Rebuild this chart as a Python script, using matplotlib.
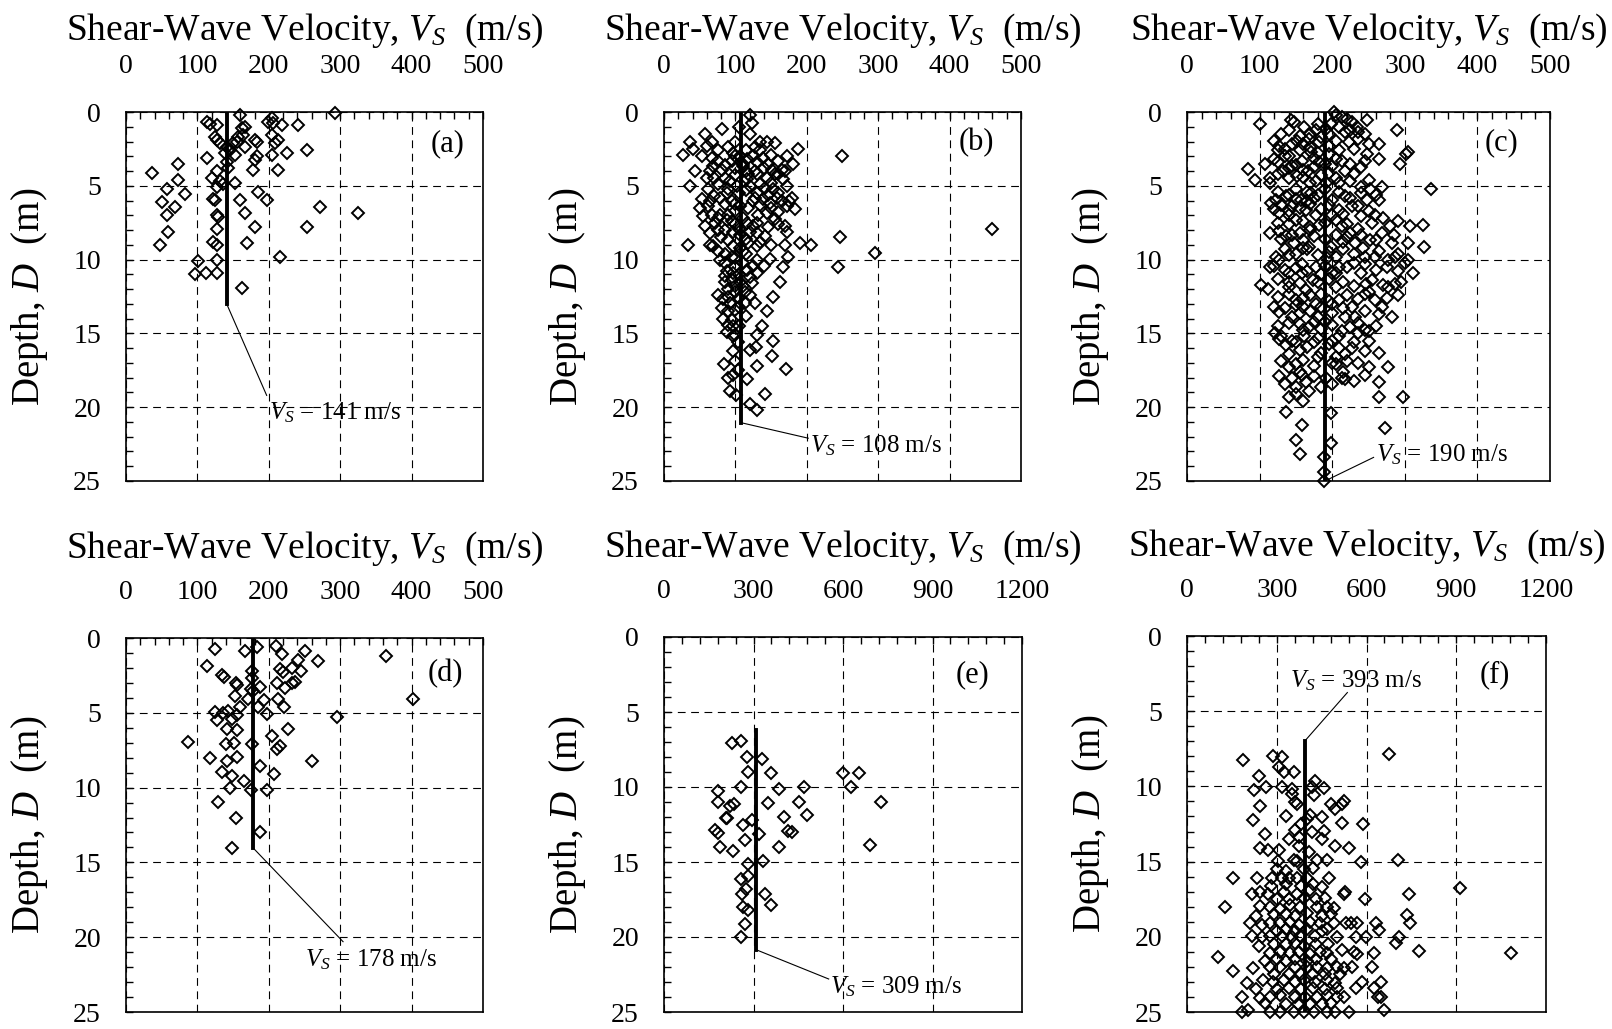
import matplotlib
matplotlib.use("Agg")
import matplotlib.pyplot as plt
from matplotlib.ticker import MultipleLocator

plt.rcParams['font.family'] = ['Liberation Serif', 'DejaVu Serif']
plt.rcParams['mathtext.fontset'] = 'custom'
plt.rcParams['mathtext.rm'] = 'Liberation Serif'
plt.rcParams['mathtext.it'] = 'Liberation Serif:italic'

# (Vs in m/s, depth in m)
pts_a = [(293, 0.1), (160, 0.2), (114, 0.7), (117, 0.8), (127, 0.9), (199, 0.66), (204, 0.43),
         (206, 0.72), (219, 0.9), (241, 0.9), (163, 1.1), (167, 1.0), (124, 1.7), (127, 1.9),
         (157, 1.7), (164, 1.56), (181, 1.9), (183, 2.0), (204, 1.56), (213, 1.9), (209, 2.1),
         (132, 2.1), (141, 2.35), (150, 2.1), (155, 2.0), (146, 2.57), (139, 2.8), (153, 2.9),
         (167, 2.35), (225, 2.8), (253, 2.57), (113, 3.1), (183, 3.0), (181, 3.25), (204, 2.9),
         (141, 3.4), (143, 3.8), (73, 3.5), (178, 3.9), (213, 3.9), (36, 4.15), (127, 4.0),
         (120, 4.5), (73, 4.6), (132, 4.7), (136, 4.9), (153, 4.8), (127, 5.06), (57, 5.2),
         (83, 5.55), (185, 5.4), (197, 5.96), (160, 5.96), (122, 5.9), (125, 5.96), (50, 6.07),
         (69, 6.46), (272, 6.46), (325, 6.86), (127, 6.98), (129, 7.09), (167, 6.86), (57, 6.98),
         (181, 7.8), (253, 7.8), (127, 7.95), (59, 8.1), (122, 8.8), (127, 9.0), (169, 8.9),
         (48, 9.0), (216, 9.85), (101, 10.1), (127, 10.0), (97, 11.0), (112, 10.9), (127, 10.9),
         (163, 11.9)]

pts_b = [(120, 0.23), (123, 0.77), (105, 1.0), (81, 1.18), (57, 1.5), (67, 2.0), (36, 2.04),
         (41, 2.5), (27, 2.9), (53, 3.0), (67, 3.1), (99, 2.0), (120, 1.5), (134, 2.0), (144, 2.0),
         (155, 2.1), (127, 2.4), (188, 2.5), (249, 3.0), (172, 3.0), (181, 3.5), (97, 2.76),
         (107, 3.0), (116, 3.2), (111, 3.67), (139, 3.1), (146, 3.55), (69, 3.67), (43, 4.0),
         (81, 3.9), (95, 3.3), (127, 4.0), (151, 3.9), (155, 4.23), (144, 4.46), (165, 3.9),
         (167, 4.57), (36, 5.0), (60, 4.5), (76, 4.9), (92, 4.7), (102, 5.0), (116, 4.57),
         (120, 5.0), (134, 4.9), (141, 5.14), (153, 5.25), (172, 5.0), (62, 5.25), (88, 5.5),
         (53, 5.9), (64, 6.0), (78, 5.8), (95, 6.0), (127, 5.8), (139, 5.9), (148, 6.16),
         (158, 5.8), (179, 5.8), (183, 6.6), (50, 6.5), (62, 6.4), (107, 6.4), (118, 6.5),
         (172, 6.4), (55, 7.06), (67, 6.95), (78, 6.95), (144, 6.84), (132, 6.95), (155, 7.25),
         (58, 7.7), (71, 7.5), (116, 7.5), (169, 7.7), (172, 8.1), (88, 7.3), (97, 8.1),
         (107, 8.3), (120, 8.1), (130, 8.2), (141, 8.4), (247, 8.47), (460, 7.9), (34, 9.0),
         (64, 9.0), (69, 9.1), (76, 9.44), (97, 9.1), (107, 9.2), (118, 8.9), (130, 9.1),
         (169, 9.0), (190, 8.9), (206, 9.0), (296, 9.55), (78, 10.0), (85, 10.2), (99, 9.9),
         (111, 10.2), (130, 10.0), (148, 9.96), (174, 9.8), (167, 10.5), (244, 10.5), (88, 10.8),
         (97, 10.9), (116, 10.7), (130, 10.9), (85, 11.5), (95, 11.4), (107, 11.5), (123, 11.6),
         (163, 11.5), (90, 12.0), (99, 11.8), (113, 12.2), (76, 12.4), (153, 12.5), (83, 12.7),
         (92, 12.95), (113, 12.95), (127, 12.95), (144, 13.45), (81, 13.3), (90, 13.5),
         (99, 13.4), (83, 14.0), (95, 14.1), (137, 14.5), (88, 14.9), (97, 15.2), (130, 15.1),
         (153, 15.5), (120, 16.1), (129, 15.9), (151, 16.5), (84, 17.1), (99, 16.9), (130, 17.2),
         (171, 17.4), (90, 18.0), (97, 17.8), (116, 18.1), (92, 18.9), (101, 19.2), (141, 19.1),
         (120, 19.8), (130, 20.2), (110, 3.5), (118, 4.2), (100, 4.3), (85, 4.5), (130, 3.4),
         (150, 4.8), (160, 5.5), (125, 6.0), (100, 6.7), (90, 7.0), (110, 7.2), (125, 7.7),
         (100, 7.6), (80, 8.5), (90, 8.7), (115, 9.6), (100, 10.5), (120, 11.2), (105, 12.6),
         (96, 14.5), (104, 15.6), (97, 16.2), (104, 17.5),
         (60, 2.3), (75, 2.6), (90, 2.4), (100, 3.0), (115, 2.6), (125, 3.0), (135, 2.6),
         (150, 2.9), (160, 3.3), (75, 3.3), (85, 3.6), (100, 3.8), (115, 4.0), (130, 4.2),
         (140, 3.8), (160, 4.2), (170, 4.0), (65, 4.0), (70, 4.5), (90, 5.2), (105, 5.5),
         (115, 5.3), (130, 5.5), (145, 5.6), (165, 6.0), (175, 6.0), (70, 5.7), (85, 6.2),
         (100, 6.2), (135, 6.3), (150, 6.5), (160, 6.8), (75, 7.2), (95, 7.4), (105, 7.9),
         (130, 7.5), (145, 7.8), (160, 7.6), (65, 8.2), (75, 8.0), (85, 8.0), (115, 8.6),
         (135, 8.8), (150, 9.0), (85, 9.6), (95, 9.8), (110, 9.4), (125, 10.4), (140, 10.4),
         (105, 11.0), (85, 11.1), (110, 11.8), (100, 12.2), (120, 12.4), (90, 12.5), (105, 13.2),
         (115, 13.8), (90, 14.4), (105, 14.5), (100, 15.1)]

pts_c = [(202, 0.0), (205, 0.23), (214, 0.34), (220, 0.46), (227, 0.68), (234, 1.03), (236, 1.37),
         (248, 0.57), (289, 1.25), (143, 0.57), (148, 0.68), (161, 1.03), (100, 0.8), (177, 1.25),
         (191, 1.14), (198, 0.8), (218, 1.37), (120, 1.94), (127, 2.28), (152, 1.94), (168, 1.82),
         (182, 2.05), (205, 1.94), (223, 2.05), (236, 1.82), (264, 2.17), (248, 2.85), (264, 3.19),
         (302, 2.85), (305, 2.73), (293, 3.53), (84, 3.83), (93, 4.63), (107, 3.53), (114, 4.5),
         (125, 3.42), (132, 3.99), (141, 2.96), (145, 3.65), (152, 4.33), (159, 3.3), (166, 3.99),
         (171, 2.73), (177, 4.67), (182, 3.42), (195, 2.85), (200, 3.65), (205, 4.44), (214, 3.3),
         (218, 3.99), (225, 4.67), (239, 3.76), (191, 4.79), (252, 5.24), (268, 5.06), (239, 5.06),
         (336, 5.2), (116, 6.15), (123, 5.93), (127, 6.84), (136, 5.7), (145, 6.38), (150, 7.29),
         (157, 5.93), (164, 6.61), (171, 5.47), (177, 6.97), (182, 7.66), (175, 5.81), (114, 8.2),
         (127, 8.09), (136, 8.43), (148, 8.89), (155, 8.2), (168, 9.12), (123, 9.8), (114, 10.5),
         (141, 9.69), (159, 10.3), (200, 5.93), (209, 6.61), (218, 5.7), (227, 6.38), (239, 7.06),
         (248, 5.93), (259, 6.95), (264, 5.93), (214, 7.75), (225, 8.2), (232, 8.89), (243, 9.23),
         (252, 8.66), (268, 8.2), (280, 7.75), (291, 7.41), (307, 7.75), (325, 7.66), (327, 9.12),
         (305, 8.89), (282, 8.89), (198, 9.12), (205, 9.8), (193, 9.91), (209, 10.5), (127, 10.03),
         (259, 9.8), (277, 10.03), (286, 9.8), (305, 10.03), (102, 11.7), (111, 11.96), (141, 11.85),
         (127, 13.56), (150, 12.76), (159, 10.94), (164, 12.08), (173, 11.4), (177, 12.99),
         (180, 13.9), (145, 13.9), (155, 14.36), (168, 14.59), (200, 10.94), (205, 11.85),
         (209, 12.76), (218, 13.9), (214, 14.81), (239, 10.94), (246, 11.62), (250, 12.19),
         (259, 12.76), (268, 13.22), (277, 11.85), (286, 11.62), (282, 13.9), (311, 10.94),
         (300, 10.26), (227, 13.22), (232, 13.9), (250, 14.81), (141, 10.94), (150, 10.6),
         (177, 10.5), (121, 15.0), (127, 15.4), (136, 15.8), (145, 15.5), (155, 16.1), (161, 15.2),
         (127, 17.9), (141, 17.3), (150, 17.1), (159, 17.8), (164, 18.3), (168, 18.9), (141, 19.3),
         (136, 20.3), (150, 19.1), (200, 15.5), (209, 16.0), (218, 16.4), (227, 16.0), (236, 15.0),
         (245, 14.8), (250, 15.5), (264, 16.3), (277, 17.3), (264, 18.3), (264, 19.3), (298, 19.3),
         (214, 18.0), (218, 18.1), (236, 17.0), (250, 17.3), (191, 18.0), (205, 17.1), (198, 20.4),
         (159, 21.2), (150, 22.2), (155, 23.2), (273, 21.4), (198, 22.4), (189, 23.4), (189, 24.4),
         (189, 25.0), (160, 2.2), (175, 3.7), (150, 5.2), (165, 6.0), (140, 7.0), (170, 8.0),
         (160, 9.2), (200, 7.0), (215, 8.8), (230, 10.2), (185, 11.0), (170, 12.4), (160, 13.2),
         (200, 13.0), (190, 14.2), (175, 15.6), (200, 17.0), (180, 16.6), (150, 18.6),
         (130, 1.5), (140, 1.2), (155, 1.6), (170, 1.5), (185, 1.7), (195, 1.5), (210, 1.0),
         (225, 1.2), (245, 1.5), (180, 0.8), (125, 2.6), (135, 2.5), (145, 2.2), (155, 2.6),
         (170, 2.4), (180, 2.8), (195, 2.3), (210, 2.6), (230, 2.5), (250, 2.2), (120, 3.2),
         (135, 3.0), (150, 3.6), (160, 3.9), (175, 3.1), (190, 3.5), (205, 3.2), (225, 3.5),
         (245, 3.3), (140, 3.8), (125, 4.2), (140, 4.5), (160, 4.4), (170, 4.8), (185, 4.3),
         (195, 4.1), (210, 4.8), (230, 4.2), (250, 4.6), (115, 4.8), (125, 5.4), (140, 5.6),
         (150, 5.9), (165, 5.4), (180, 5.6), (190, 5.2), (210, 5.4), (225, 5.8), (240, 5.5),
         (260, 5.6), (130, 6.3), (140, 6.7), (155, 6.5), (170, 6.2), (185, 6.6), (195, 6.3),
         (215, 6.9), (235, 6.4), (250, 6.7), (120, 6.6), (125, 7.5), (140, 7.6), (160, 7.4),
         (170, 7.8), (190, 7.5), (205, 7.3), (220, 7.6), (235, 7.9), (255, 7.5), (270, 7.2),
         (130, 8.6), (145, 8.3), (160, 8.7), (175, 8.4), (190, 8.6), (205, 8.3), (220, 8.5),
         (240, 8.3), (260, 8.7), (285, 8.3), (135, 9.3), (150, 9.6), (165, 9.3), (180, 9.7),
         (195, 9.5), (215, 9.3), (230, 9.6), (245, 9.8), (265, 9.4), (290, 9.6), (120, 10.4),
         (135, 10.7), (165, 10.8), (190, 10.4), (205, 10.9), (220, 10.5), (245, 10.3), (260, 10.7),
         (275, 10.5), (290, 10.8), (125, 11.3), (140, 11.5), (155, 11.6), (180, 11.5), (195, 11.3),
         (215, 11.5), (230, 11.8), (255, 11.4), (270, 11.7), (295, 11.5), (125, 12.5), (140, 12.3),
         (160, 12.6), (185, 12.3), (195, 12.8), (220, 12.4), (235, 12.7), (245, 12.3), (275, 12.6),
         (290, 12.4), (120, 13.2), (135, 13.3), (155, 13.6), (170, 13.5), (185, 13.2), (200, 13.6),
         (215, 13.3), (245, 13.5), (265, 13.7), (150, 13.1), (125, 14.5), (140, 14.3), (160, 14.8),
         (175, 14.2), (185, 14.7), (200, 14.4), (225, 14.6), (235, 14.3), (260, 14.5), (130, 15.2),
         (150, 15.6), (165, 15.9), (180, 15.3), (195, 15.7), (210, 15.2), (230, 15.6), (245, 16.2),
         (140, 16.4), (160, 16.8), (185, 16.3), (205, 16.6), (220, 16.9), (175, 17.2), (130, 16.9),
         (135, 18.4), (145, 18.0), (155, 17.6), (175, 17.9), (185, 18.6), (200, 18.4), (215, 17.6),
         (230, 18.2), (245, 17.8), (160, 19.6)]

pts_d = [(125, 0.73), (166, 0.89), (183, 0.6), (210, 0.55), (219, 1.1), (251, 0.89), (269, 1.55),
         (364, 1.22), (241, 1.48), (114, 1.88), (134, 2.44), (137, 2.6), (176, 2.22), (176, 2.66),
         (216, 2.06), (220, 2.28), (232, 2.0), (245, 2.22), (154, 2.99), (156, 3.17), (175, 3.43),
         (178, 3.55), (187, 3.26), (211, 2.99), (223, 3.32), (233, 3.04), (237, 2.95), (153, 3.88),
         (171, 4.1), (185, 4.59), (193, 4.14), (213, 4.06), (221, 4.59), (159, 4.59), (402, 4.06),
         (124, 4.94), (127, 5.47), (136, 5.03), (143, 4.88), (148, 5.43), (155, 5.16), (197, 5.1),
         (141, 6.05), (155, 6.14), (227, 6.05), (295, 5.25), (87, 6.98), (140, 7.09), (151, 7.02),
         (177, 7.09), (205, 6.54), (211, 7.42), (215, 7.2), (118, 8.04), (142, 8.2), (155, 7.98),
         (187, 8.58), (260, 8.2), (134, 8.97), (149, 9.2), (165, 9.53), (207, 9.09), (146, 10.04),
         (175, 10.19), (197, 10.19), (129, 10.97), (154, 12.03), (187, 12.96), (149, 14.03)]

pts_e = [(227, 7.08), (257, 6.93), (278, 8.02), (328, 8.15), (283, 8.97), (358, 9.09), (257, 9.98),
         (387, 10.15), (470, 9.98), (600, 9.09), (653, 9.09), (626, 10.02), (182, 10.27),
         (182, 10.98), (350, 11.05), (451, 10.98), (727, 10.98), (222, 11.27), (233, 11.14),
         (210, 12.09), (208, 12.05), (294, 12.2), (401, 11.98), (479, 11.87), (171, 12.87),
         (182, 13.09), (266, 12.54), (317, 13.14), (417, 12.92), (429, 12.98), (270, 13.54),
         (188, 14.03), (230, 14.25), (384, 14.03), (692, 13.87), (281, 15.1), (331, 14.92),
         (257, 16.1), (283, 15.95), (274, 16.77), (261, 17.1), (337, 17.1), (264, 18.0),
         (283, 18.17), (358, 17.88), (272, 19.1), (257, 20.0)]

pts_f = [(186, 8.24), (287, 7.96), (317, 8.02), (306, 8.73), (325, 9.06), (356, 9.06), (676, 7.85),
         (239, 9.33), (224, 10.23), (264, 10.01), (317, 10.06), (351, 10.17), (418, 10.06),
         (429, 9.66), (457, 10.1), (424, 10.6), (362, 11.05), (367, 11.16), (480, 11.16),
         (496, 11.49), (524, 10.94), (519, 11.16), (244, 11.27), (220, 12.22), (412, 11.93),
         (452, 12.04), (519, 12.44), (589, 12.49), (261, 13.19), (362, 12.93), (373, 13.37),
         (418, 13.04), (457, 12.97), (496, 13.99), (541, 14.08), (244, 14.08), (272, 14.25),
         (306, 14.25), (373, 13.99), (407, 14.36), (435, 14.92), (468, 14.92), (303, 14.96),
         (356, 14.92), (367, 14.96), (581, 15.03), (704, 14.87), (155, 16.07), (233, 16.07),
         (284, 16.07), (317, 16.07), (340, 16.07), (367, 16.07), (401, 16.07), (474, 16.07),
         (216, 17.13), (244, 17.02), (272, 17.13), (323, 17.02), (367, 17.13), (412, 16.91),
         (524, 17.13), (528, 17.02), (595, 17.46), (743, 17.13), (913, 16.73), (127, 18.0),
         (244, 17.97), (278, 18.0), (312, 18.12), (345, 17.9), (379, 18.0), (435, 18.0),
         (468, 18.0), (491, 18.06), (211, 19.1), (250, 19.2), (278, 19.1), (312, 19.1),
         (345, 19.0), (373, 19.2), (412, 19.0), (446, 19.1), (491, 19.1), (530, 19.1), (547, 19.1),
         (569, 19.1), (631, 19.1), (642, 19.56), (734, 18.56), (746, 19.1), (216, 19.96),
         (250, 20.0), (278, 19.96), (317, 19.96), (351, 20.0), (379, 19.96), (429, 19.96),
         (468, 19.45), (502, 20.0), (564, 20.0), (597, 20.0), (710, 20.0), (698, 20.44),
         (104, 21.33), (278, 21.1), (312, 21.0), (345, 21.1), (373, 21.0), (412, 21.15),
         (446, 21.0), (468, 21.1), (519, 20.9), (558, 21.0), (569, 21.15), (625, 21.1), (777, 20.93),
         (1083, 21.06), (155, 22.25), (222, 22.1), (278, 22.03), (312, 21.99), (362, 21.99),
         (401, 21.99), (435, 22.03), (468, 22.1), (502, 21.99), (524, 22.1), (552, 22.03),
         (620, 22.03), (199, 23.05), (255, 22.87), (289, 22.98), (323, 22.87), (362, 22.98),
         (390, 22.87), (429, 22.98), (468, 22.87), (496, 23.1), (586, 22.98), (648, 22.98),
         (625, 23.43), (183, 23.98), (244, 24.09), (278, 23.98), (312, 23.87), (362, 23.98),
         (396, 23.98), (435, 23.98), (468, 23.87), (502, 23.98), (524, 23.98), (564, 23.43),
         (637, 23.98), (648, 23.98), (183, 24.97), (205, 24.86), (278, 24.97), (312, 24.97),
         (356, 24.97), (390, 24.97), (424, 24.97), (468, 24.97), (496, 24.97), (541, 24.97),
         (659, 24.86),
         (300, 15.5), (330, 15.6), (390, 15.5), (420, 15.4), (280, 16.6), (330, 16.5), (380, 16.6),
         (420, 16.5), (450, 16.7), (300, 17.5), (340, 17.5), (390, 17.4), (430, 17.5), (460, 17.4),
         (290, 18.5), (330, 18.5), (360, 18.6), (400, 18.4), (450, 18.6), (480, 18.5), (300, 19.6),
         (330, 19.5), (360, 19.6), (400, 19.5), (450, 19.6), (290, 20.5), (330, 20.5), (360, 20.4),
         (390, 20.6), (430, 20.5), (470, 20.5), (300, 21.5), (330, 21.6), (360, 21.5), (400, 21.6),
         (430, 21.5), (480, 21.5), (290, 22.5), (340, 22.5), (380, 22.5), (420, 22.5), (460, 22.5),
         (510, 22.5), (300, 23.5), (340, 23.4), (380, 23.5), (420, 23.4), (460, 23.5), (500, 23.4),
         (330, 24.5), (370, 24.5), (410, 24.5), (450, 24.5), (480, 24.4), (260, 24.4), (230, 23.5),
         (260, 21.6), (240, 20.6), (230, 18.6), (350, 10.5), (380, 12.5), (340, 13.5), (400, 12.2),
         (450, 13.5), (330, 12.0)]

panel_ids = ['a', 'b', 'c', 'd', 'e', 'f']
panel_pts = [pts_a, pts_b, pts_c, pts_d, pts_e, pts_f]
mean_vs = [141, 108, 190, 178, 309, 393]
mean_top = [0, 0, 0, 0, 6.2, 7.0]
mean_bot = [13.0, 21.05, 25.0, 14.03, 20.85, 25.0]
x_max = [500, 500, 500, 500, 1200, 1200]

# leader line end and text anchor (left edge, vertical centre), data units
lead_end = [(197, 19.2), (202, 22.1), (257, 23.4), (304, 20.3), (552, 22.8), (536, 3.76)]
txt_pos = [(200, 20.4), (205, 22.6), (260, 23.2), (251, 21.5), (557, 23.3), (345, 3.0)]
tag_pos = [(0.90, 0.915), (0.876, 0.917), (0.867, 0.918), (0.894, 0.906), (0.863, 0.90), (0.858, 0.898)]

# axes boxes in pixels: left, top, width, height
W, H = 1612, 1029
boxes = [(126, 112, 357, 369), (664, 112, 357, 369), (1187, 112, 363, 369),
         (126, 638, 357, 374), (664, 637, 358, 375), (1187, 636, 359, 376)]
title_pad = [10, 10, 10, 16, 16, 16]

fig = plt.figure(figsize=(W / 100, H / 100), dpi=100)

for i in range(6):
    l, t, w, h = boxes[i]
    ax = fig.add_axes([l / W, 1 - (t + h) / H, w / W, h / H])
    vs = [p[0] for p in panel_pts[i]]
    dep = [p[1] for p in panel_pts[i]]

    ax.plot(vs, dep, 'D', mfc='none', mec='k', ms=6, mew=1.4, ls='none', clip_on=False, zorder=3)
    ax.plot([mean_vs[i], mean_vs[i]], [mean_top[i], mean_bot[i]], color='k', lw=2.8, zorder=4)
    start = mean_top[i] if i == 5 else mean_bot[i]
    ax.plot([mean_vs[i], lead_end[i][0]], [start, lead_end[i][1]], color='k', lw=0.8, zorder=4)
    ax.text(txt_pos[i][0], txt_pos[i][1], '$V_S$ = %d m/s' % mean_vs[i], fontsize=18,
            ha='left', va='center', zorder=5)
    ax.text(tag_pos[i][0], tag_pos[i][1], '(%s)' % panel_ids[i], transform=ax.transAxes,
            fontsize=22, ha='center', va='center')

    ax.set_xlim(0, x_max[i])
    ax.set_ylim(25, 0)
    if x_max[i] == 500:
        ax.xaxis.set_major_locator(MultipleLocator(100))
        ax.xaxis.set_minor_locator(MultipleLocator(20))
    else:
        ax.xaxis.set_major_locator(MultipleLocator(300))
        ax.xaxis.set_minor_locator(MultipleLocator(60))
    ax.yaxis.set_major_locator(MultipleLocator(5))
    ax.yaxis.set_minor_locator(MultipleLocator(1))

    ax.xaxis.set_label_position('top')
    ax.tick_params(axis='x', which='both', direction='in', top=True, bottom=False,
                   labeltop=True, labelbottom=False, length=5, width=1, pad=24, labelsize=20)
    ax.tick_params(axis='y', which='both', direction='in', left=True, right=False,
                   length=5, width=1, pad=18, labelsize=20)
    ax.grid(True, which='major', color='k', ls=(0, (7, 5)), lw=0.8)
    for s in ax.spines.values():
        s.set_linewidth(1.2)

    ax.set_xlabel('Shear-Wave Velocity, $V_S$  (m/s)', fontsize=27, labelpad=title_pad[i])
    ax.set_ylabel('Depth, $D$  (m)', fontsize=28, labelpad=17)

fig.savefig('out.png', dpi=100)
